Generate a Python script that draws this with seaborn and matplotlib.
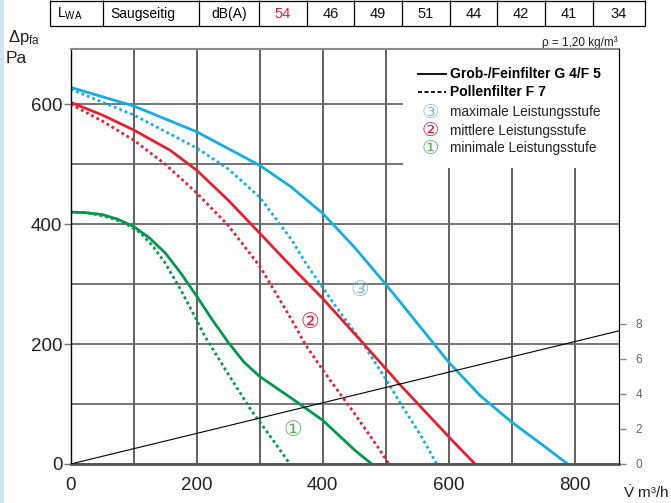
import matplotlib.pyplot as plt
from matplotlib.patches import Rectangle
import seaborn as sns

# Kennlinien: Volumenstrom (m3/h) und Druck (Pa)
max_g4_x = [0, 100, 200, 300, 350, 400, 450, 500, 550, 600, 650, 700, 750, 789]
max_g4_y = [628, 597, 554, 498, 462, 418, 362, 300, 235, 170, 114, 70, 31, 0]
max_f7_x = [0, 100, 200, 250, 300, 350, 375, 420, 462, 500, 523, 559, 581]
max_f7_y = [625, 582, 527, 492, 445, 375, 332, 264, 204, 142, 102, 42, 0]
mid_g4_x = [0, 50, 100, 158, 200, 250, 300, 356, 400, 462, 523, 605, 642]
mid_g4_y = [603, 582, 557, 523, 490, 440, 385, 323, 276, 204, 132, 40, 0]
mid_f7_x = [0, 50, 100, 150, 200, 250, 300, 350, 372, 400, 450, 491, 505]
mid_f7_y = [600, 572, 540, 500, 452, 398, 330, 242, 200, 157, 85, 23, 0]
min_g4_x = [0, 25, 50, 75, 100, 125, 150, 175, 200, 225, 250, 275, 300, 350, 400, 451, 478]
min_g4_y = [420, 419, 416, 408, 396, 377, 352, 318, 280, 240, 203, 170, 146, 110, 73, 23, 0]
min_f7_x = [0, 25, 50, 70, 90, 110, 130, 150, 175, 200, 213, 250, 285, 321, 348]
min_f7_y = [420, 419, 414, 408, 399, 386, 364, 335, 290, 240, 213, 150, 92, 40, 0]

# Leistungsaufnahme (rechte Achse)
power_x = [0, 870]
power_y = [0, 7.6]

# Schallleistung Tabelle
table_head = ['L$_\\mathregular{WA}$', 'Saugseitig', 'dB(A)']
table_values = [54, 46, 49, 51, 44, 42, 41, 34]

legend_labels = ['maximale Leistungsstufe', 'mittlere Leistungsstufe', 'minimale Leistungsstufe']
stage_marks = ['\u2462', '\u2461', '\u2460']
# positions of the circled numbers on the curves
mark_x = [459, 380, 353]
mark_y = [290, 237, 57]

blue = '#12aee8'
red = '#e8202e'
green = '#009a49'
mark_colors = ['#86bde3', '#e0283c', '#62b062']

plt.rcParams['font.family'] = ['Liberation Sans', 'DejaVu Sans']
plt.rcParams['mathtext.fontset'] = 'custom'
plt.rcParams['mathtext.rm'] = 'Liberation Sans'
plt.rcParams['mathtext.it'] = 'Liberation Sans:italic'

fig = plt.figure(figsize=(6.71, 5.03), dpi=100)

# header / frame layer in pixel coordinates
hdr = fig.add_axes([0, 0, 1, 1])
hdr.set_xlim(0, 671)
hdr.set_ylim(503, 0)
hdr.axis('off')
hdr.add_patch(Rectangle((0, 0), 4, 503, color='#d3e5f4', lw=0))

cell_edges = [50, 103, 199, 259, 307, 354, 402, 450, 497, 545, 593, 645]
hdr.vlines(cell_edges, 0, 26, color='black', lw=0.9)
hdr.hlines([0.5, 26], 50, 645, color='black', lw=0.9)
hdr.text(57, 14, table_head[0], fontsize=10, va='center', ha='left')
hdr.text(110, 14, table_head[1], fontsize=10, va='center', ha='left')
hdr.text(229, 14, table_head[2], fontsize=10, va='center', ha='center')
for i, v in enumerate(table_values):
    cx = (cell_edges[3 + i] + cell_edges[4 + i]) / 2
    hdr.text(cx, 14, str(v), fontsize=10.5, va='center', ha='center',
             color=red if i == 0 else '#111111')

hdr.text(8, 37, '$\\mathregular{\\Delta p_{fa}}$', fontsize=12, va='center', ha='left', color='#222222')
hdr.text(6, 58, 'Pa', fontsize=12.5, va='center', ha='left', color='#222222')
hdr.text(618, 43, '\u03c1 = 1,20 kg/m\u00b3', fontsize=8.5, va='center', ha='right', color='#222222')
hdr.text(623, 493, '$\\mathregular{\\dot{V}}$ m\u00b3/h', fontsize=11, va='center', ha='left', color='#222222')

# main diagram
ax = fig.add_axes([70.7 / 671, 1 - 464 / 503, 548 / 671, 415 / 503])
ax.set_xlim(0, 870)
ax.set_ylim(0, 692)
ax.set_axisbelow(True)
ax.set_xticks([0, 200, 400, 600, 800])
ax.set_xticks(range(100, 870, 200), minor=True)
ax.set_yticks([0, 200, 400, 600])
ax.set_yticks([100, 300, 500], minor=True)
ax.xaxis.grid(True, which='both', color='#353535', lw=1.1)
ax.yaxis.grid(True, which='both', color='#6a6a6a', lw=1.3)
ax.tick_params(axis='x', which='both', length=0, pad=9, labelsize=13.5, labelcolor='#222222')
ax.tick_params(axis='y', which='major', length=5, width=1, color='#777777', pad=1,
               labelsize=13.5, labelcolor='#222222')
ax.tick_params(axis='y', which='minor', length=0)
ax.spines['left'].set_color('black')
ax.spines['left'].set_linewidth(1.0)
ax.spines['bottom'].set_color('#555555')
ax.spines['bottom'].set_linewidth(2.0)
ax.spines['top'].set_color('#8a8a8a')
ax.spines['top'].set_linewidth(1.5)
ax.spines['right'].set_color('black')

dots = (0, (1, 1.1))
curves = [
    (max_g4_x, max_g4_y, blue, '-'),
    (max_f7_x, max_f7_y, blue, dots),
    (mid_g4_x, mid_g4_y, red, '-'),
    (mid_f7_x, mid_f7_y, red, dots),
    (min_g4_x, min_g4_y, green, '-'),
    (min_f7_x, min_f7_y, green, dots),
]
for cx, cy, col, ls in curves:
    sns.lineplot(x=cx, y=cy, ax=ax, color=col, lw=2.0, linestyle=ls, sort=False, estimator=None)
ax.set_xlabel('')
ax.set_ylabel('')

for m, x, y, col in zip(stage_marks, mark_x, mark_y, mark_colors):
    ax.text(x, y, m, color=col, fontsize=15, ha='center', va='center', family=['DejaVu Sans'])

# legend box
ax.add_patch(Rectangle((528, 494), 345, 200, facecolor='white', edgecolor='none', zorder=1))
ax.plot([0.634, 0.685], [0.940, 0.940], transform=ax.transAxes, color='black', lw=1.3)
ax.plot([0.634, 0.685], [0.896, 0.896], transform=ax.transAxes, color='black', lw=1.3,
        linestyle=(0, (2.2, 1.4)))
ax.text(0.692, 0.940, 'Grob-/Feinfilter G 4/F 5', transform=ax.transAxes, fontsize=10,
        fontweight='bold', va='center', ha='left')
ax.text(0.692, 0.896, 'Pollenfilter F 7', transform=ax.transAxes, fontsize=10,
        fontweight='bold', va='center', ha='left')
for i, (m, lab) in enumerate(zip(stage_marks, legend_labels)):
    yy = [0.848, 0.803, 0.761][i]
    ax.text(0.656, yy, m, transform=ax.transAxes, color=mark_colors[i], fontsize=14,
            ha='center', va='center', family=['DejaVu Sans'])
    ax.text(0.692, yy, lab, transform=ax.transAxes, fontsize=9.8, color='#222222',
            va='center', ha='left')

# power axis on the right
ax2 = ax.twinx()
ax2.set_ylim(0, 692 / 29.2)
ax2.set_yticks([0, 2, 4, 6, 8])
ax2.tick_params(axis='y', length=5, width=1, color='#888888', pad=7, labelsize=8.5,
                labelcolor='#666666')
for s in ['left', 'top', 'bottom']:
    ax2.spines[s].set_visible(False)
ax2.spines['right'].set_color('black')
sns.lineplot(x=power_x, y=power_y, ax=ax2, color='black', lw=0.8, sort=False, estimator=None)
ax2.set_ylabel('')

fig.savefig('out.png', dpi=100)
